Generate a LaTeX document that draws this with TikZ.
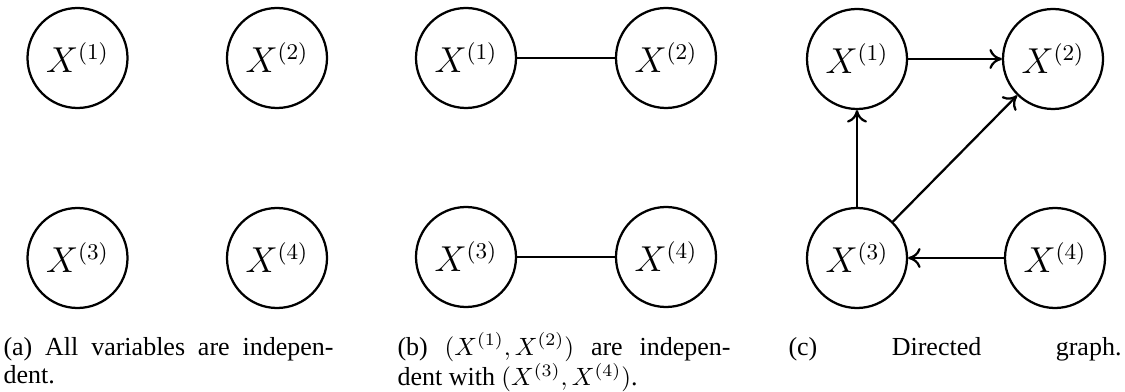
\documentclass[tikz,border=0pt]{standalone}
\usepackage{fontspec}
\setmainfont{Liberation Serif}
\usetikzlibrary{arrows.meta}
\begin{document}
\begin{tikzpicture}[x=0.4pt,y=-0.4pt,
  var/.style={circle,draw,line width=0.9pt,minimum size=40pt,inner sep=0pt,font=\fontsize{13.5}{16}\selectfont},
  edge/.style={line width=0.9pt},
  arr/.style={line width=0.9pt,-{To[length=5pt,width=8pt]}},
  captext/.style={anchor=base west,inner sep=0pt,font=\fontsize{10.4}{11.2}\selectfont}]
\useasboundingbox (0,0) rectangle (1125,392);
% (a)
\node[var] (a1) at (77.5,58) {$X^{(1)}$};
\node[var] (a2) at (277,58) {$X^{(2)}$};
\node[var] (a3) at (77.5,258) {$X^{(3)}$};
\node[var] (a4) at (277,258) {$X^{(4)}$};
% (b)
\node[var] (b1) at (466,58) {$X^{(1)}$};
\node[var] (b2) at (666,58) {$X^{(2)}$};
\node[var] (b3) at (466,257) {$X^{(3)}$};
\node[var] (b4) at (666,257) {$X^{(4)}$};
\draw[edge] (b1) -- (b2);
\draw[edge] (b3) -- (b4);
% (c)
\node[var] (c1) at (857,59) {$X^{(1)}$};
\node[var] (c2) at (1053,59) {$X^{(2)}$};
\node[var] (c3) at (857,258) {$X^{(3)}$};
\node[var] (c4) at (1055,258) {$X^{(4)}$};
\draw[arr] (c1) -- (c2);
\draw[arr] (c3) -- (c1);
\draw[arr] (c3) -- (c2);
\draw[arr] (c4) -- (c3);
% captions
\node[captext] (capa) at (3,355) {\parbox[t]{132pt}{\tolerance=10000 (a) All variables are indepen-\linebreak dent.}};
\node[captext] (capb) at (397,355) {\parbox[t]{133.2pt}{\tolerance=10000 (b) $(X^{(1)}, X^{(2)})$ are indepen-\linebreak dent with $(X^{(3)}, X^{(4)})$.}};
\node[captext] (capc) at (788,355) {\makebox[133.2pt][s]{(c) Directed graph.}};
\end{tikzpicture}
\end{document}
